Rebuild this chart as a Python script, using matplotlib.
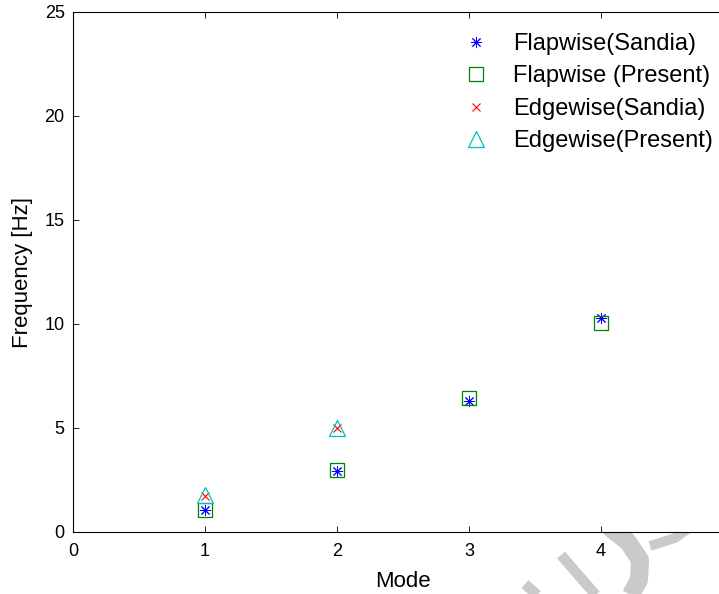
import matplotlib.pyplot as plt
from matplotlib.lines import Line2D

plt.rcParams['font.family'] = ['Liberation Sans', 'DejaVu Sans']

# natural frequencies per mode
flap_modes = [1, 2, 3, 4]
flap_sandia = [1.05, 2.95, 6.3, 10.3]
flap_present = [1.05, 2.98, 6.42, 10.05]

edge_modes = [1, 2]
edge_sandia = [1.73, 5.0]
edge_present = [1.8, 5.02]

labels = ['Flapwise(Sandia)', 'Flapwise (Present)', 'Edgewise(Sandia)', 'Edgewise(Present)']

W, H = 719, 594
fig = plt.figure(figsize=(W / 100, H / 100), dpi=100)


def px(x, y):
    return x / W, 1 - y / H


# faint grey watermark behind the axes
strokes = [
    ([(561, 555), (600, 600)], 7.5),
    ([(525, 584), (543, 600)], 7.5),
    ([(609, 527), (628, 542), (640, 560), (639, 580), (628, 600)], 13),
    ([(650, 546), (675, 538), (712, 512)], 7),
]
for pts, lw in strokes:
    xs, ys = zip(*[px(x, y) for x, y in pts])
    fig.add_artist(Line2D(xs, ys, transform=fig.transFigure, color='#cacaca',
                          lw=lw, solid_capstyle='butt', solid_joinstyle='round', zorder=0))

ax = fig.add_axes([73 / W, 1 - 532 / H, 660 / W, 520 / H], zorder=1)
ax.set_facecolor('white')

ax.plot(flap_modes, flap_sandia, linestyle='none', marker=(8, 2, 0), color='b',
        markersize=8, mew=0.7, label=labels[0])
ax.plot(flap_modes, flap_present, linestyle='none', marker='s', mfc='none', color='g',
        markersize=9.5, mew=0.9, label=labels[1])
ax.plot(edge_modes, edge_sandia, linestyle='none', marker='x', color='r',
        markersize=6, mew=0.8, label=labels[2])
ax.plot(edge_modes, edge_present, linestyle='none', marker='^', mfc='none', color='c',
        markersize=12, mew=0.9, label=labels[3])

ax.set_xlim(0, 5)
ax.set_ylim(0, 25)
ax.set_xticks([0, 1, 2, 3, 4])
ax.set_yticks([0, 5, 10, 15, 20, 25])
ax.tick_params(direction='in', top=True, right=True, length=4, width=0.6, labelsize=13)
ax.tick_params(axis='x', pad=8)
ax.tick_params(axis='y', pad=6)
for s in ax.spines.values():
    s.set_linewidth(0.8)

ax.set_xlabel('Mode', fontsize=16, labelpad=8)
ax.set_ylabel('Frequency [Hz]', fontsize=16, labelpad=8)

leg = fig.legend(loc='upper left', bbox_to_anchor=px(458, 33), frameon=False,
                 fontsize=17, numpoints=1, handlelength=1.5, handletextpad=0.85,
                 labelspacing=0.44, borderpad=0, borderaxespad=0)
leg.set_zorder(5)

fig.savefig('out.png', dpi=100)
